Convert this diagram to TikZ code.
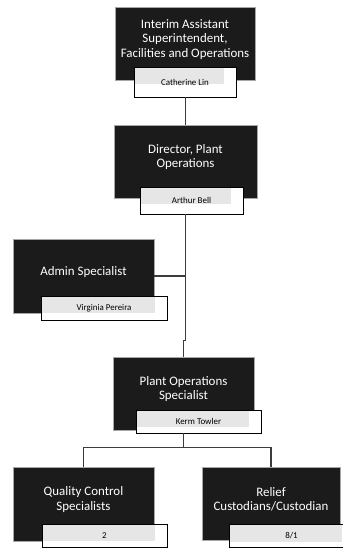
\documentclass[tikz,border=0pt]{standalone}
\usepackage{fontspec}
\setmainfont{Carlito}
\usetikzlibrary{positioning,calc}

\definecolor{boxblack}{HTML}{1B1B1B}
\definecolor{namegray}{HTML}{E6E6E6}
\definecolor{linegray}{HTML}{3C3C3C}

\begin{document}
\begin{tikzpicture}[
                    x=0.75pt, y=-0.75pt,
                    titlebox/.style={fill=boxblack, draw=gray!70, line width=0.5pt, inner sep=0pt},
                    titletext/.style={text=white, align=center, font=\fontsize{9.7}{10.8}\selectfont, yshift=3.2pt},
                    namebox/.style={draw=black, fill=white, line width=0.7pt, inner sep=0pt,
                        font=\fontsize{6.7}{8}\selectfont,
                        path picture={\fill[namegray] (path picture bounding box.north west) rectangle ([shift={(-9pt,-12.75pt)}]path picture bounding box.north east);}},
                    link/.style={draw=linegray, line width=0.8pt},
                ]
                    \useasboundingbox (0,0) rectangle (342,548);

                    % title boxes
                    \node[titlebox, minimum width=105pt, minimum height=54.75pt,
                        label={[titletext]center:{Interim Assistant\\Superintendent,\\Facilities and Operations}}] (ttl1) at (185,43.5) {};
                    \node[titlebox, minimum width=107.25pt, minimum height=54.75pt,
                        label={[titletext]center:{Director, Plant\\Operations}}] (ttl2) at (185.5,161.5) {};
                    \node[titlebox, minimum width=105.75pt, minimum height=55.5pt,
                        label={[titletext]center:{Admin Specialist}}] (ttl3) at (83.5,276) {};
                    \node[titlebox, minimum width=105.75pt, minimum height=54.75pt,
                        label={[titletext]center:{Plant Operations\\Specialist}}] (ttl4) at (183.5,393.5) {};
                    \node[titlebox, minimum width=105.75pt, minimum height=55.5pt,
                        label={[titletext]center:{Quality Control\\Specialists}}] (ttl5) at (83.5,504) {};
                    \node[titlebox, minimum width=103.5pt, minimum height=54.75pt,
                        label={[titletext]center:{Relief\\Custodians/Custodian}}] (ttl6) at (271,503.5) {};

                    % name boxes
                    \node[namebox, minimum width=76.5pt, minimum height=22.5pt] (nm1) at (185,82) {Catherine Lin};
                    \node[namebox, minimum width=77.25pt, minimum height=20.25pt] (nm2) at (191.5,200.5) {Arthur Bell};
                    \node[namebox, minimum width=94.5pt, minimum height=18pt] (nm3) at (104,308) {Virginia Pereira};
                    \node[namebox, minimum width=93.75pt, minimum height=17.25pt] (nm4) at (198.5,421.5) {Kerm Towler};
                    \node[namebox, minimum width=93.75pt, minimum height=17.25pt] (nm5) at (104.5,535.5) {2};
                    \node[namebox, minimum width=93.75pt, minimum height=17.25pt] (nm6) at (291.5,536) {8/1};

                    % connectors
                    \draw[link] (nm1.south -| ttl2.north) -- (ttl2.north);
                    \draw[link] (nm2.south -| ttl2.south) -- ++(0,126) -| (ttl4.north);
                    \draw[link] (ttl3.east) -- (ttl3.east -| ttl2.south);
                    \draw[link] (nm4.south -| ttl4.south) -- ++(0,14) coordinate (split);
                    \draw[link] (ttl5.north) |- (split) -| (ttl6.north);
                \end{tikzpicture}
\end{document}
